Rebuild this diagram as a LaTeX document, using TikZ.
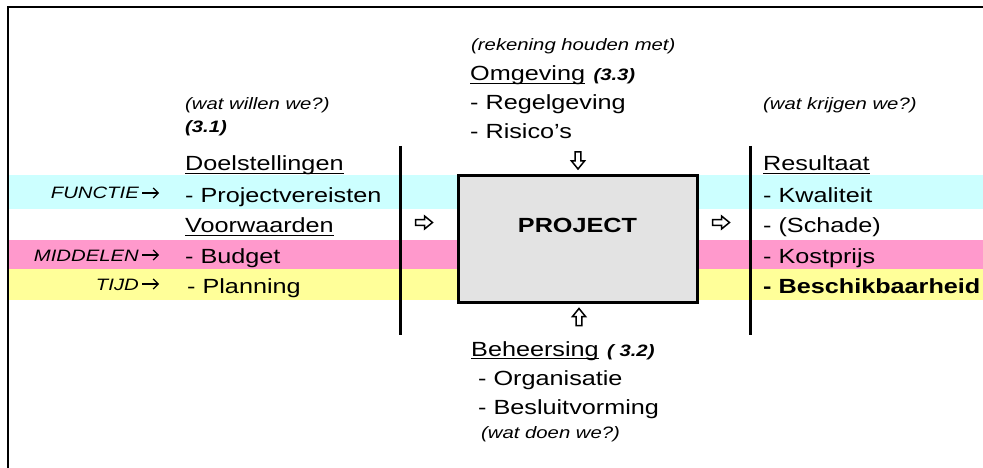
\documentclass[tikz,border=0pt]{standalone}
\usepackage{fontspec}
\setmainfont{Liberation Sans}[FakeStretch=1.23]
\usetikzlibrary{arrows.meta}
\definecolor{bandcyan}{HTML}{CCFFFF}
\definecolor{bandpink}{HTML}{FF99CC}
\definecolor{bandyellow}{HTML}{FFFF99}
\definecolor{boxgray}{HTML}{E3E3E3}
\begin{document}
\begin{tikzpicture}[x=1pt,y=-1pt,
  txt/.style={inner sep=0pt, anchor=base west, font=\fontsize{20.5}{24}\selectfont},
  btxt/.style={txt, font=\fontsize{20.5}{24}\selectfont\bfseries},
  itxt/.style={inner sep=0pt, anchor=base west, font=\fontsize{16.5}{20}\selectfont\itshape},
  bitxt/.style={itxt, font=\fontsize{16.5}{20}\selectfont\bfseries\itshape},
  lbl/.style={inner sep=0pt, anchor=base east, font=\fontsize{16.5}{20}\selectfont\itshape},
  lblarrow/.style={line width=1.2pt, -{Straight Barb[length=5pt,width=10pt,line width=1.2pt]}},
  blockarrow/.pic={\draw[line width=1.5pt, fill=white, line join=miter]
     (-8.5,-2.8) -- (0.5,-2.8) -- (0.5,-6.5) -- (8.5,0) -- (0.5,6.5) -- (0.5,2.8) -- (-8.5,2.8) -- cycle;},
  vline/.style={line width=3pt},
  ulline/.style={line width=1.2pt},
  frameline/.style={line width=2.5pt}
]
\useasboundingbox (0,0) rectangle (983,468);
% colour bands
\fill[bandcyan] (8,175) rectangle (983,209);
\fill[bandpink] (8,240) rectangle (983,269);
\fill[bandyellow] (8,269) rectangle (983,300);
% frame
\draw[frameline] (8,468) -- (8,7) -- (983,7);
% vertical separators
\draw[vline] (400,146) -- (400,335);
\draw[vline] (750,146) -- (750,335);
% project box
\node[draw, line width=3pt, fill=boxgray, minimum width=239pt, minimum height=126pt, inner sep=0pt] (box) at (577.5,239) {};
\node[btxt, anchor=base] (proj) at (577.5,233) {PROJECT};
% block arrows
\pic (arrin) at (424,222.5) {blockarrow};
\pic (arrout) at (721,222.5) {blockarrow};
\pic[rotate=-90] (arrdown) at (578,160.5) {blockarrow};
\pic[rotate=90] (arrup) at (579,317) {blockarrow};
% top column
\node[itxt] (rek) at (471,51) {(rekening houden met)};
\node[txt] (omg) at (470,81) {Omgeving};
\node[bitxt, anchor=base west] (omgn) at ([xshift=8pt]omg.base east) {(3.3)};
\node[txt] (regel) at (470,110) {- Regelgeving};
\node[txt] (ris) at (470,139) {- Risico’s};
% left column
\node[itxt] (wil) at (185,110) {(wat willen we?)};
\node[bitxt] (n31) at (185,133) {(3.1)};
\node[txt] (doel) at (185,171) {Doelstellingen};
\node[txt] (pv) at (185,202) {- Projectvereisten};
\node[txt] (voor) at (185,233) {Voorwaarden};
\node[txt] (bud) at (185,263) {- Budget};
\node[txt] (plan) at (187,293) {- Planning};
% left labels
\node[lbl] (fun) at (139,199) {FUNCTIE};
\node[lbl] (mid) at (139,261) {MIDDELEN};
\node[lbl] (tijd) at (139,290) {TIJD};
\foreach \n in {fun,mid,tijd}
  \draw[lblarrow] ([xshift=3pt,yshift=6pt]\n.base east) -- ++(17,0);
% right column
\node[itxt] (krij) at (763,110) {(wat krijgen we?)};
\node[txt] (res) at (763,171) {Resultaat};
\node[txt] (kwal) at (763,202) {- Kwaliteit};
\node[txt] (scha) at (763,233) {- (Schade)};
\node[txt] (kost) at (763,263) {- Kostprijs};
\node[btxt] (besch) at (763,293) {- Beschikbaarheid};
% bottom column
\node[txt] (beh) at (471,356) {Beheersing};
\node[bitxt, anchor=base west] (behn) at ([xshift=8pt]beh.base east) {( 3.2)};
\node[txt] (org) at (478,385) {- Organisatie};
\node[txt] (besl) at (478,414) {- Besluitvorming};
\node[itxt] (doen) at (481,438) {(wat doen we?)};
% underlines
\foreach \n in {omg,doel,voor,res,beh}
  \draw[ulline] ([yshift=-2.8pt]\n.base west) -- ([yshift=-2.8pt]\n.base east);
\end{tikzpicture}
\end{document}
